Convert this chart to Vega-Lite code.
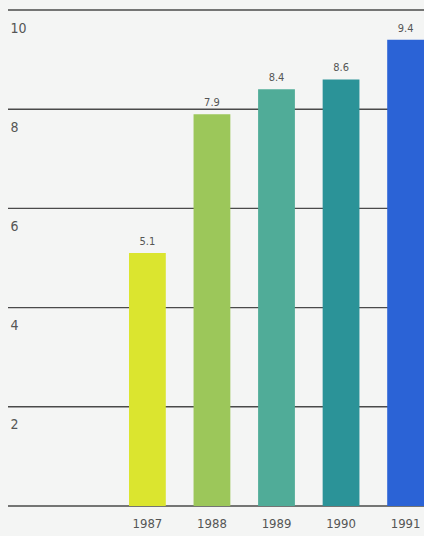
{
  "$schema": "https://vega.github.io/schema/vega-lite/v6.json",
  "width": 416,
  "height": 496,
  "autosize": {"type": "none"},
  "padding": {"left": 8, "top": 10, "right": 0, "bottom": 30},
  "background": "#f4f5f4",
  "config": {
    "view": {"stroke": null},
    "font": "'DejaVu Sans Condensed', Roboto, sans-serif"
  },
  "layer": [
    {
      "data": {"values": [{"g": 0}, {"g": 2}, {"g": 4}, {"g": 6}, {"g": 8}, {"g": 10}]},
      "mark": {"type": "rule", "color": "#4a4a4a", "strokeWidth": 1.4},
      "encoding": {
        "y": {
          "field": "g",
          "type": "quantitative",
          "scale": {"domain": [0, 10], "nice": false},
          "axis": {
            "title": null,
            "values": [2, 4, 6, 8, 10],
            "domain": false,
            "ticks": false,
            "grid": false,
            "labelAlign": "left",
            "labelBaseline": "middle",
            "labelPadding": -2,
            "labelOffset": 18,
            "labelFontSize": 14,
            "labelColor": "#555555"
          }
        }
      }
    },
    {
      "data": {
        "values": [
          {"year": "1987", "value": 5.1, "color": "#dbe52f"},
          {"year": "1988", "value": 7.9, "color": "#9cc75a"},
          {"year": "1989", "value": 8.4, "color": "#50ac98"},
          {"year": "1990", "value": 8.6, "color": "#2b9398"},
          {"year": "1991", "value": 9.4, "color": "#2b63d6"}
        ]
      },
      "encoding": {
        "x": {
          "field": "year",
          "type": "ordinal",
          "scale": {"range": [121, 416], "paddingInner": 0.43, "paddingOuter": 0},
          "axis": {
            "title": null,
            "domain": false,
            "ticks": false,
            "labelAngle": 0,
            "labelFontSize": 13,
            "labelColor": "#555555",
            "labelPadding": 11
          }
        },
        "y": {"field": "value", "type": "quantitative"}
      },
      "layer": [
        {
          "mark": {"type": "bar"},
          "encoding": {
            "color": {"field": "color", "type": "nominal", "scale": null}
          }
        },
        {
          "mark": {"type": "text", "baseline": "bottom", "dy": -6, "fontSize": 11, "color": "#555555"},
          "encoding": {
            "text": {"field": "value", "type": "quantitative", "format": ".1f"}
          }
        }
      ]
    }
  ]
}
